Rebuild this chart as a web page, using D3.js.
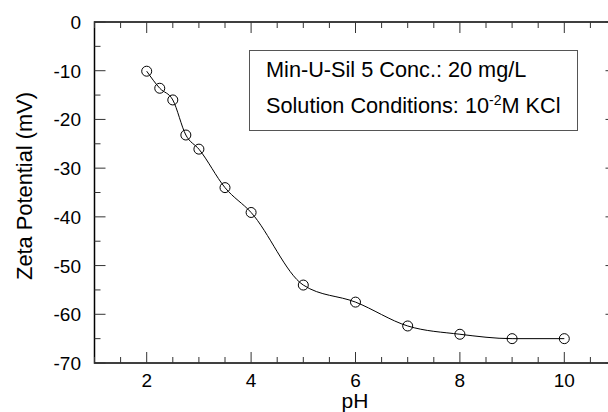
<!DOCTYPE html>
<html><head><meta charset="utf-8">
<script src="https://cdn.jsdelivr.net/npm/d3@7"></script>
<style>body{margin:0;background:#fff}svg{display:block}text{font-family:"Liberation Sans",Arial,sans-serif;fill:#000}</style>
</head><body>
<svg id="c" width="608" height="412"></svg>
<script>
const pH = [2, 2.25, 2.5, 2.75, 3, 3.5, 4, 5, 6, 7, 8, 9, 10];
const zeta = [-10.1, -13.6, -16.0, -23.2, -26.1, -34.0, -39.1, -54.0, -57.5, -62.4, -64.1, -65.0, -65.0];
const xTicks = [2, 4, 6, 8, 10];
const yTicks = [0, -10, -20, -30, -40, -50, -60, -70];
const legendLine1 = "Min-U-Sil 5 Conc.: 20 mg/L";

const svg = d3.select("#c");
const L = 94.5, R = 616.5, T = 22, B = 363;
const x = d3.scaleLinear().domain([1, 11]).range([L, R]);
const y = d3.scaleLinear().domain([-70, 0]).range([B, T]);

const g = svg.append("g");
const minorX = d3.range(1, 11.01, 0.5);
const minorY = d3.range(-70, 0.01, 5);

g.append("rect").attr("x", L).attr("y", T).attr("width", R - L).attr("height", B - T)
  .attr("fill", "none").attr("stroke", "#000").attr("stroke-width", 1.5);

const tk = g.append("g").attr("stroke", "#333").attr("stroke-width", 1);
minorX.forEach(v => {
  const major = Math.abs(v - Math.round(v)) < 1e-6 && Math.round(v) % 2 === 0;
  const len = major ? 11 : 6;
  tk.append("line").attr("x1", x(v)).attr("x2", x(v)).attr("y1", B).attr("y2", B - len);
  tk.append("line").attr("x1", x(v)).attr("x2", x(v)).attr("y1", T).attr("y2", T + len);
});
minorY.forEach(v => {
  const major = v % 10 === 0;
  const len = major ? 11 : 6;
  tk.append("line").attr("x1", L).attr("x2", L + len).attr("y1", y(v)).attr("y2", y(v));
  tk.append("line").attr("x1", R).attr("x2", R - len).attr("y1", y(v)).attr("y2", y(v));
});

g.selectAll(".xl").data(xTicks).join("text").attr("x", d => x(d)).attr("y", 387)
  .attr("text-anchor", "middle").attr("font-size", 19).text(d => d);
g.selectAll(".yl").data(yTicks).join("text").attr("x", 81).attr("y", d => y(d) + 7)
  .attr("text-anchor", "end").attr("font-size", 19).text(d => d);

g.append("text").attr("x", 355).attr("y", 408).attr("text-anchor", "middle").attr("font-size", 21).text("pH");
g.append("text").attr("transform", "translate(32,186) rotate(-90)")
  .attr("text-anchor", "middle").attr("font-size", 21.8).text("Zeta Potential (mV)");

const data = pH.map((p, i) => [p, zeta[i]]);
g.append("path").datum(data)
  .attr("d", d3.line().x(d => x(d[0])).y(d => y(d[1])).curve(d3.curveMonotoneX))
  .attr("fill", "none").attr("stroke", "#000").attr("stroke-width", 1);
g.selectAll(".pt").data(data).join("circle")
  .attr("cx", d => x(d[0])).attr("cy", d => y(d[1])).attr("r", 5)
  .attr("fill", "none").attr("stroke", "#000").attr("stroke-width", 1);

g.append("rect").attr("x", 249.5).attr("y", 50.5).attr("width", 328).attr("height", 80)
  .attr("fill", "#fff").attr("stroke", "#555").attr("stroke-width", 1);
g.append("text").attr("x", 266).attr("y", 77).attr("font-size", 21.7).text(legendLine1);
const t2 = g.append("text").attr("x", 266).attr("y", 113).attr("font-size", 21.7);
t2.append("tspan").text("Solution Conditions: 10");
t2.append("tspan").attr("font-size", 14).attr("dy", -8).text("-2");
t2.append("tspan").attr("dy", 8).text("M KCl");
</script>
</body></html>
